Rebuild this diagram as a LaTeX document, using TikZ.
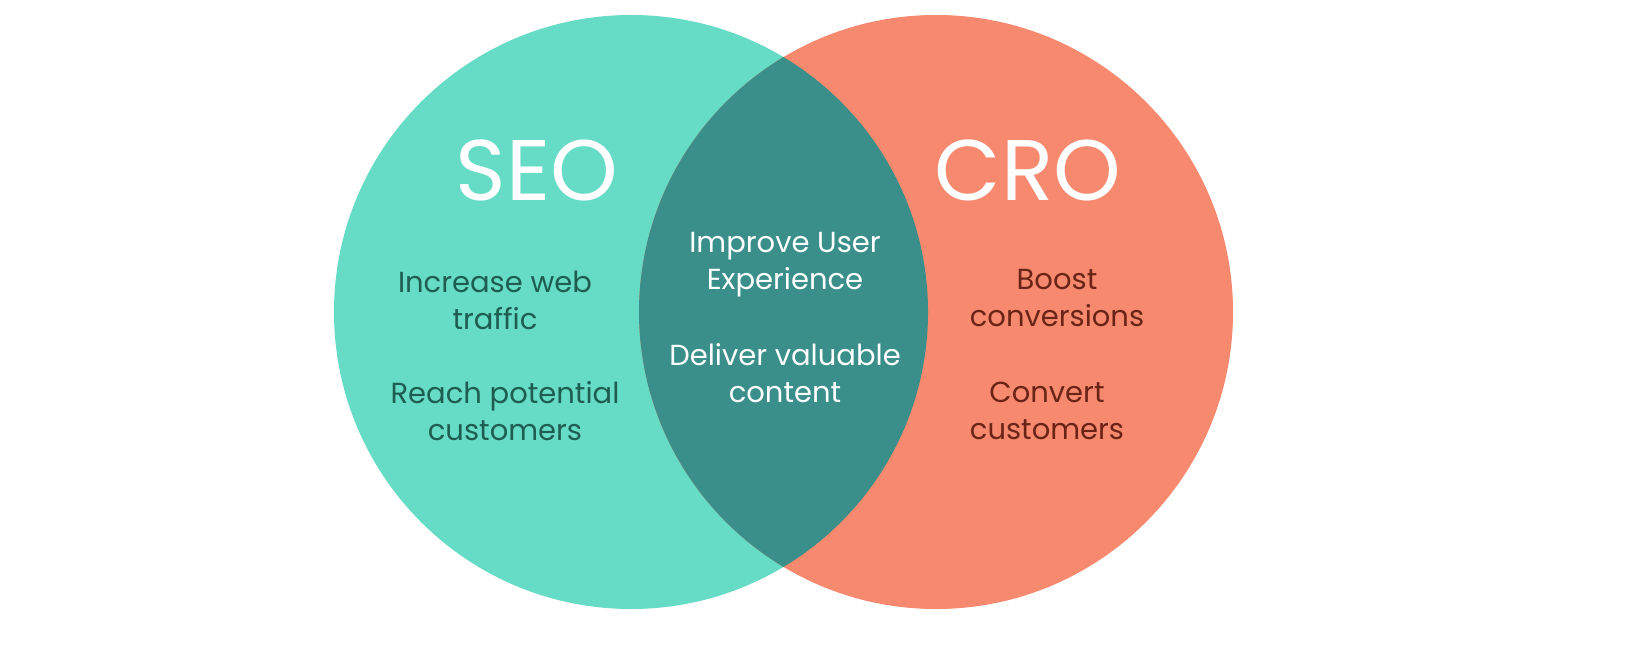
\documentclass[tikz,border=0pt]{standalone}
\usepackage{fontspec}
\setmainfont{Poppins}
\definecolor{teal1}{HTML}{66DCC6}
\definecolor{sal}{HTML}{F7896F}
\definecolor{mid}{HTML}{3A8F8A}
\definecolor{tdark}{HTML}{1F5C52}
\definecolor{sdark}{HTML}{6A2416}
\begin{document}
\begin{tikzpicture}[x=1pt,y=-1pt,
  title/.style={font=\fontsize{86}{90}\selectfont, text=white},
  body/.style={font=\fontsize{29}{37}\selectfont, align=center}]
\useasboundingbox (0,0) rectangle (1632,652);
\fill[white] (0,0) rectangle (1632,652);
\fill[teal1] (631,312) circle (297);
\fill[sal] (936,312) circle (297);
\begin{scope}
\clip (631,312) circle (297);
\fill[mid] (936,312) circle (297);
\end{scope}
\node[title] (seo) at (537,170) {SEO};
\node[title] (cro) at (1028,170) {CRO};
\node[body,text=tdark] (a) at (495,300) {Increase web\\traffic};
\node[body,text=tdark] (b) at (505,411) {Reach potential\\customers};
\node[body,text=white] (c) at (785,265) {Improve User\\Experience};
\node[body,text=white] (d) at (785,373) {Deliver valuable\\content};
\node[body,text=sdark] (e) at (1057,298) {Boost\\conversions};
\node[body,text=sdark] (f) at (1047,411) {Convert\\customers};
\end{tikzpicture}
\end{document}
